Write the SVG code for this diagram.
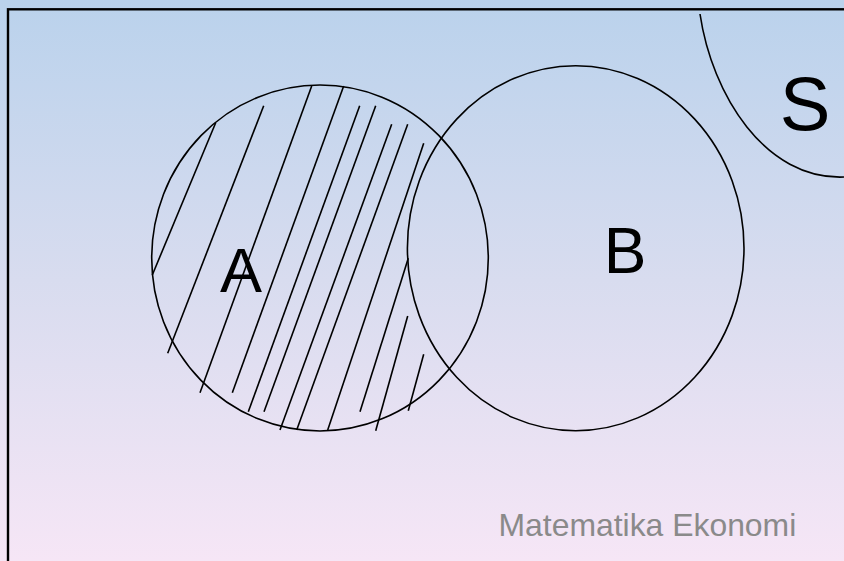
<svg xmlns="http://www.w3.org/2000/svg" width="844" height="561" viewBox="0 0 844 561">
<defs>
<linearGradient id="bg" x1="0" y1="0" x2="0" y2="1">
<stop offset="0" stop-color="#BAD2EC"/>
<stop offset="0.5" stop-color="#D8DCEF"/>
<stop offset="1" stop-color="#F6E6F6"/>
</linearGradient>
<style>
.shape{fill:none;stroke:#000;stroke-width:1.6}
.hatch{fill:none;stroke:#000;stroke-width:1.6;stroke-linecap:butt}
.lbl{font-family:"Liberation Sans",Arial,sans-serif;fill:#000}
</style>
</defs>
<rect x="0" y="0" width="844" height="561" fill="url(#bg)"/>
<rect id="frame" x="8" y="9.3" width="900" height="600" fill="none" stroke="#000" stroke-width="2.4"/>
<g id="S">
<path class="shape" d="M700 14 C712 95 765 180 844 177"/>
<text class="lbl" x="805" y="130" font-size="76" text-anchor="middle">S</text>
</g>
<g id="connectors">
<g id="hatching" class="hatch">
<line x1="215.7" y1="122.7" x2="152.3" y2="275"/>
<line x1="263.7" y1="105.7" x2="167.7" y2="353.3"/>
<line x1="311.7" y1="86" x2="200" y2="392.7"/>
<line x1="343.7" y1="86" x2="232.3" y2="392.7"/>
<line x1="359.7" y1="105.7" x2="248.3" y2="411.7"/>
<line x1="375.7" y1="105.7" x2="264" y2="411.7"/>
<line x1="391.7" y1="124.3" x2="280" y2="430"/>
<line x1="407.7" y1="124.3" x2="296.7" y2="430"/>
<line x1="423.7" y1="143.3" x2="327.7" y2="430"/>
<line x1="408.3" y1="258.3" x2="360" y2="411.7"/>
<line x1="407.7" y1="316" x2="375.7" y2="430.7"/>
<line x1="423.7" y1="354.3" x2="408.3" y2="410.7"/>
</g>
</g>
<g id="A">
<ellipse class="shape" cx="320" cy="258" rx="168.3" ry="173"/>
<text class="lbl" x="241" y="292" font-size="63" text-anchor="middle">A</text>
</g>
<g id="B">
<ellipse class="shape" cx="575.7" cy="248.2" rx="168.3" ry="182.5"/>
<text class="lbl" x="625" y="273.3" font-size="64" text-anchor="middle">B</text>
</g>
<text id="caption" x="498.5" y="535.7" font-family="&quot;Liberation Sans&quot;,Arial,sans-serif" font-size="31.9" fill="#8A8A8A">Matematika Ekonomi</text>
</svg>
